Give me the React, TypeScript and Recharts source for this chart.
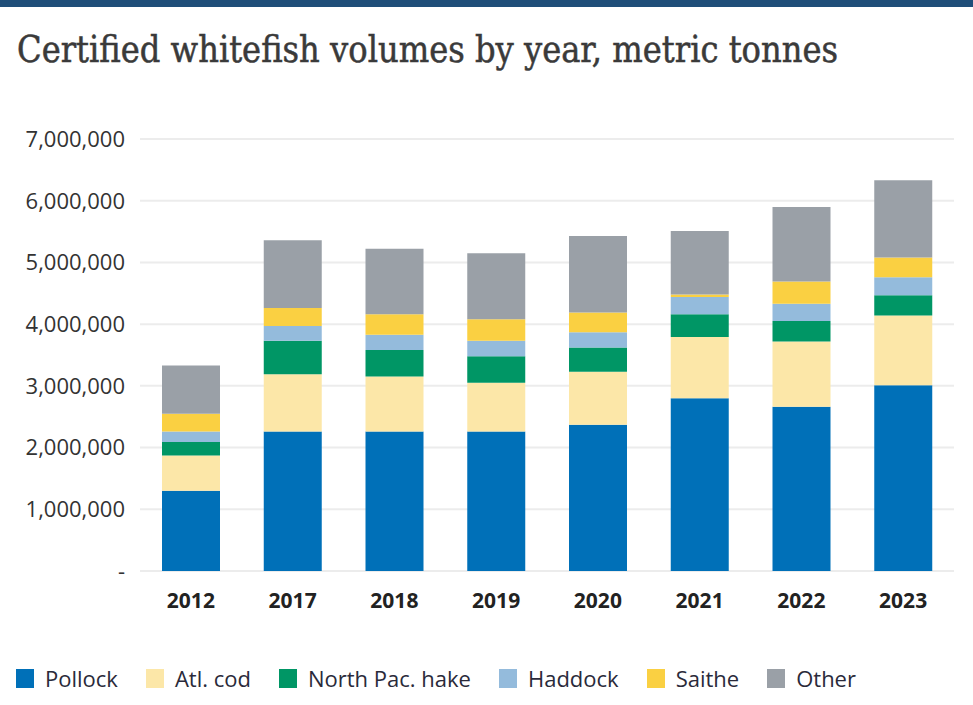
import React from 'react';
import { BarChart, Bar, XAxis, YAxis, CartesianGrid } from 'recharts';

const years = ['2012', '2017', '2018', '2019', '2020', '2021', '2022', '2023'];
const pollock = [1300000, 2260000, 2260000, 2260000, 2370000, 2800000, 2660000, 3010000];
const atlCod = [570000, 930000, 890000, 790000, 860000, 990000, 1060000, 1130000];
const northPacHake = [220000, 540000, 430000, 430000, 390000, 370000, 330000, 330000];
const haddock = [170000, 240000, 250000, 250000, 250000, 280000, 280000, 290000];
const saithe = [290000, 290000, 330000, 350000, 320000, 40000, 360000, 320000];
const other = [780000, 1100000, 1060000, 1070000, 1240000, 1030000, 1210000, 1250000];
const yTicks = [0, 1000000, 2000000, 3000000, 4000000, 5000000, 6000000, 7000000];

const title = 'Certified whitefish volumes by year, metric tonnes';

const series = [
  { key: 'pollock', name: 'Pollock', color: '#0070B8', values: pollock },
  { key: 'atlCod', name: 'Atl. cod', color: '#FCE7A8', values: atlCod },
  { key: 'hake', name: 'North Pac. hake', color: '#009665', values: northPacHake },
  { key: 'haddock', name: 'Haddock', color: '#94BBDC', values: haddock },
  { key: 'saithe', name: 'Saithe', color: '#FAD042', values: saithe },
  { key: 'other', name: 'Other', color: '#9AA0A7', values: other },
];

const data = years.map((year, i) => {
  const row: Record<string, string | number> = { year };
  series.forEach((s) => {
    row[s.key] = s.values[i];
  });
  return row;
});

const fmt = (v: number) => (v === 0 ? '-' : v.toLocaleString('en-US'));

export default function App() {
  return (
    <div style={{ position: 'absolute', left: 0, top: 0, width: 973, height: 705, background: '#fff', overflow: 'hidden' }}>
      <div style={{ position: 'absolute', left: 0, top: 0, width: 973, height: 7, background: '#1F4E79' }} />
      <svg style={{ position: 'absolute', left: 0, top: 0 }} width={973} height={80}>
        <text
          x={17}
          y={62}
          style={{ fontFamily: "'DejaVu Serif Condensed', 'DejaVu Serif', serif", fontStretch: 'condensed' }}
          fontSize={37}
          fill="#3a3a3a"
          stroke="#3a3a3a"
          strokeWidth={0.5}
          textLength={821}
          lengthAdjust="spacingAndGlyphs"
        >
          {title}
        </text>
      </svg>
      <div style={{ position: 'absolute', left: 0, top: 0 }}>
        <BarChart
          width={973}
          height={705}
          data={data}
          margin={{ top: 139, right: 19, bottom: 94, left: 0 }}
          barSize={58}
        >
          <CartesianGrid vertical={false} stroke="#ececec" strokeWidth={2} />
          <XAxis
            dataKey="year"
            axisLine={false}
            tickLine={false}
            height={40}
            tickMargin={16}
            tick={{ fontFamily: "'Open Sans', sans-serif", fontSize: 21, fontWeight: 700, fill: '#222' }}
          />
          <YAxis
            width={140}
            domain={[0, 7000000]}
            ticks={yTicks}
            interval={0}
            axisLine={false}
            tickLine={false}
            tickSize={0}
            tickMargin={15}
            tickFormatter={fmt}
            tick={{ fontFamily: "'Open Sans', sans-serif", fontSize: 22, fill: '#333' }}
          />
          {series.map((s) => (
            <Bar key={s.key} dataKey={s.key} name={s.name} stackId="a" fill={s.color} isAnimationActive={false} />
          ))}
        </BarChart>
      </div>
      <div
        style={{
          position: 'absolute',
          left: 16,
          top: 663,
          display: 'flex',
          alignItems: 'center',
          fontFamily: "'Open Sans', sans-serif",
          fontSize: 22,
          color: '#2a2a3a',
          whiteSpace: 'nowrap',
        }}
      >
        {series.map((s) => (
          <div key={s.key} style={{ display: 'flex', alignItems: 'center', marginRight: 28 }}>
            <span style={{ display: 'inline-block', width: 18, height: 19, background: s.color, marginRight: 11 }} />
            <span>{s.name}</span>
          </div>
        ))}
      </div>
    </div>
  );
}
